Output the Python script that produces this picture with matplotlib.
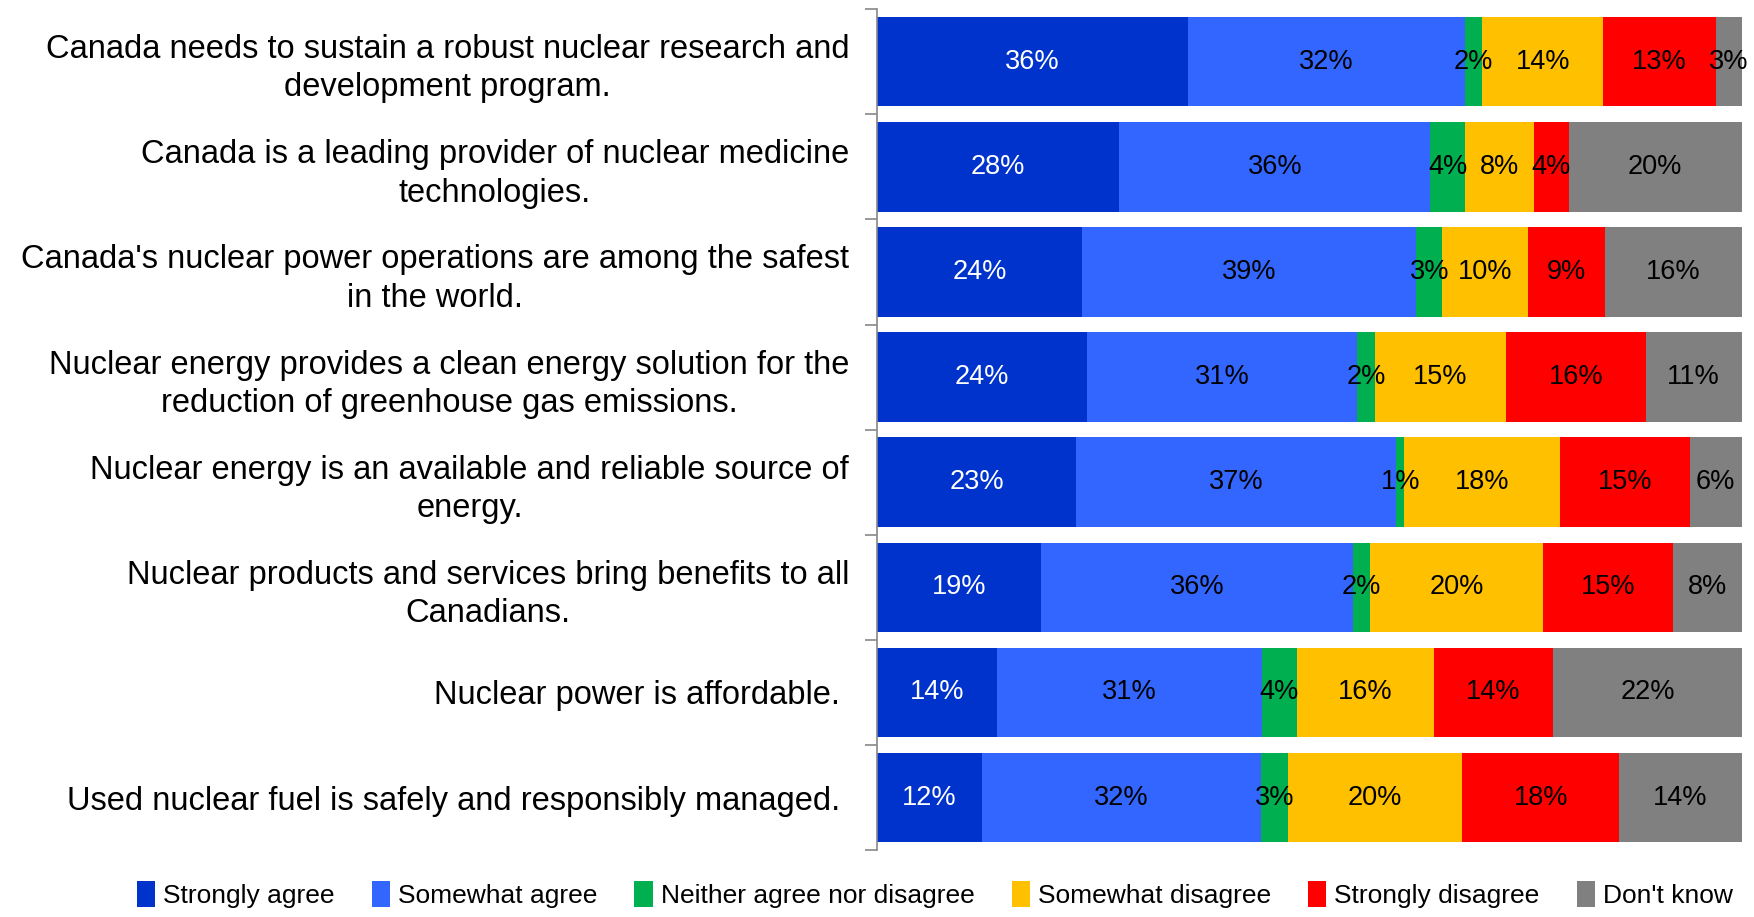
import matplotlib
matplotlib.use("Agg")
import matplotlib.pyplot as plt
import numpy as np

plt.rcParams['font.family'] = ['Liberation Sans', 'DejaVu Sans']

statements = [
    "Canada needs to sustain a robust nuclear research and\ndevelopment program.",
    "Canada is a leading provider of nuclear medicine\ntechnologies.",
    "Canada's nuclear power operations are among the safest\nin the world.",
    "Nuclear energy provides a clean energy solution for the\nreduction of greenhouse gas emissions.",
    "Nuclear energy is an available and reliable source of\nenergy.",
    "Nuclear products and services bring benefits to all\nCanadians.",
    "Nuclear power is affordable. ",
    "Used nuclear fuel is safely and responsibly managed. ",
]
responses = ["Strongly agree", "Somewhat agree", "Neither agree nor disagree",
             "Somewhat disagree", "Strongly disagree", "Don't know"]
colors = ["#0033CC", "#3366FF", "#00B050", "#FFC000", "#FF0000", "#808080"]
text_colors = ["white", "black", "black", "black", "black", "black"]

strongly_agree = [36, 28, 24, 24, 23, 19, 14, 12]
somewhat_agree = [32, 36, 39, 31, 37, 36, 31, 32]
neither = [2, 4, 3, 2, 1, 2, 4, 3]
somewhat_disagree = [14, 8, 10, 15, 18, 20, 16, 20]
strongly_disagree = [13, 4, 9, 16, 15, 15, 14, 18]
dont_know = [3, 20, 16, 11, 6, 8, 22, 14]

data = np.array([strongly_agree, somewhat_agree, neither,
                 somewhat_disagree, strongly_disagree, dont_know], dtype=float)
shares = data / data.sum(axis=0) * 100  # 100% stacked

fig = plt.figure(figsize=(17.54, 9.17), dpi=100)
ax = fig.add_axes([0.5, 0.073, 0.493, 0.917])

y = np.arange(len(statements))
left = np.zeros(len(statements))
for i, name in enumerate(responses):
    bars = ax.barh(y, shares[i], left=left, height=0.85, color=colors[i],
                   label=name, edgecolor='none')
    for j, b in enumerate(bars):
        ax.text(left[j] + shares[i][j] / 2, y[j], f"{int(data[i][j])}%",
                ha='center', va='center', fontsize=19.5, color=text_colors[i])
    left += shares[i]

ax.set_xlim(0, 100)
ax.set_ylim(len(statements) - 0.5, -0.5)
ax.set_xticks([])
ax.set_yticks(y)
ax.set_yticklabels(statements, fontsize=23.5, ha='right', multialignment='center',
                   linespacing=1.3)
ax.tick_params(axis='y', which='major', length=0, pad=20)
ax.set_yticks(np.arange(len(statements) + 1) - 0.5, minor=True)
ax.tick_params(axis='y', which='minor', length=9, color='#888888', width=1.2)
for s in ['top', 'right', 'bottom']:
    ax.spines[s].set_visible(False)
ax.spines['left'].set_color('#888888')
ax.spines['left'].set_linewidth(1.2)

fig.legend(loc='lower center', bbox_to_anchor=(0.533, -0.016), ncol=6, frameon=False,
           fontsize=19, handlelength=0.7, handleheight=1.1, handletextpad=0.3,
           columnspacing=1.4)

fig.savefig("out.png", dpi=100)
